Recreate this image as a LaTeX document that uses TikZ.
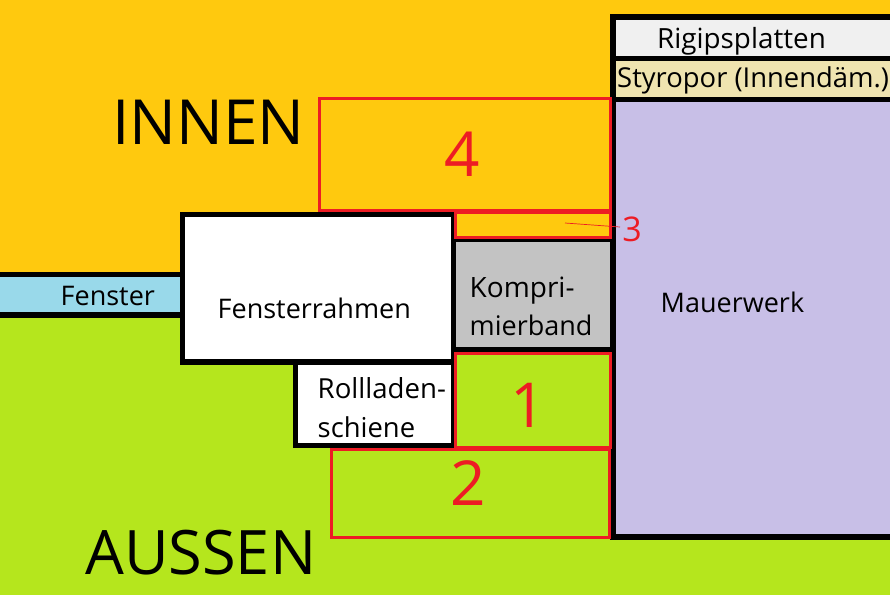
\documentclass[tikz,border=0pt]{standalone}
\usepackage{fontspec}
\setmainfont{Open Sans}
\definecolor{innen}{HTML}{FFC90E}
\definecolor{aussen}{HTML}{B5E61D}
\definecolor{glas}{HTML}{99D9EA}
\definecolor{band}{HTML}{C3C3C3}
\definecolor{mauer}{HTML}{C8BFE7}
\definecolor{styro}{HTML}{EFE4B0}
\definecolor{rigips}{HTML}{F0F0F0}
\definecolor{rot}{HTML}{ED1C24}
\tikzset{
  x=1pt,y=-1pt,
  part/.style={draw=black,line width=5.2pt,line cap=rect},
  zone/.style={draw=rot,line width=3pt},
  lbl/.style={inner sep=0pt,anchor=base west,text=black,font=\fontsize{27}{32}\selectfont},
  big/.style={inner sep=0pt,anchor=base west,text=black,font=\fontsize{61.3}{70}\selectfont},
  num/.style={inner sep=0pt,anchor=base,text=rot,font=\fontsize{62}{70}\selectfont},
}
\begin{document}
\begin{tikzpicture}
\useasboundingbox (0,0) rectangle (890,595);
\fill[innen] (0,0) rectangle (890,295);
\fill[aussen] (0,295) rectangle (890,595);
% wall layers
\path[fill=mauer] (613,99.5) rectangle (895,537);
\draw[part,fill=rigips] (895,17) -- (613,17) -- (613,58.5) -- (895,58.5);
\draw[part,fill=styro] (895,58.5) -- (613,58.5) -- (613,99.5) -- (895,99.5);
\draw[part] (613,99.5) -- (613,537) -- (895,537);
% window
\draw[part,fill=glas] (-5,274.5) -- (182.5,274.5) -- (182.5,315) -- (-5,315) -- cycle;
\draw[part,fill=white] (295.5,362) rectangle (453.5,445.5);
\draw[part,fill=white] (182.5,214.5) rectangle (453.5,362);
\draw[part,fill=band] (453.5,239) rectangle (613,350);
% zones
\draw[zone] (319.5,98.5) rectangle (610.5,210.5);
\draw[zone] (455.5,212.5) rectangle (610.5,237);
\draw[zone] (455.5,353.5) rectangle (610.5,447);
\draw[zone] (331,449.5) rectangle (609.5,537.5);
\coordinate (tickA) at (565,223);
\coordinate (tickB) at (620,227);
\draw[rot,line width=0.7pt] (tickA) -- (tickB);
% labels
\node[lbl,font=\fontsize{27.8}{32}\selectfont] (rigips) at (657,48) {Rigipsplatten};
\node[lbl,font=\fontsize{27.4}{32}\selectfont] (styro) at (617,87) {Styropor (Innendäm.)};
\node[lbl] (fenster) at (60.5,305) {Fenster};
\node[lbl] (rahmen) at (217.5,318) {Fensterrahmen};
\node[lbl,font=\fontsize{28}{32}\selectfont] (kompri) at (469.5,297) {Kompri-};
\node[lbl] (mierband) at (469.5,335) {mierband};
\node[lbl] (mauer) at (660.5,312) {Mauerwerk};
\node[lbl,font=\fontsize{27.6}{32}\selectfont] (rollladen) at (317.5,398) {Rollladen-};
\node[lbl,font=\fontsize{27.4}{32}\selectfont] (schiene) at (317.5,437) {schiene};
\node[big,font=\fontsize{62.2}{70}\selectfont] (innen) at (112,144) {INNEN};
\node[big] (aussen) at (85,574) {AUSSEN};
\node[num] (n4) at (462,176) {4};
\node[num] (n1) at (528,427) {1};
\node[num] (n2) at (468,505) {2};
\node[inner sep=0pt,anchor=base,text=rot,font=\fontsize{34}{40}\selectfont] (n3) at (632,241) {3};
\end{tikzpicture}
\end{document}
